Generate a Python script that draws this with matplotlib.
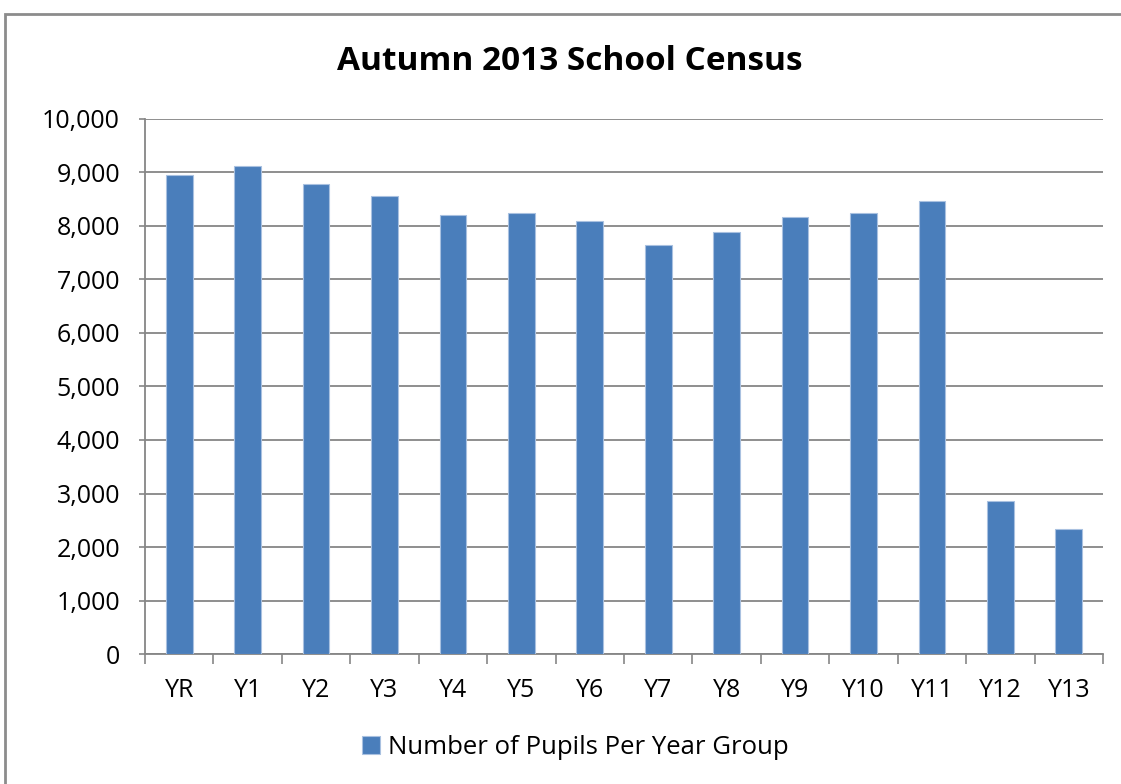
import matplotlib.pyplot as plt
from matplotlib.patches import Rectangle
from matplotlib.ticker import FuncFormatter, MultipleLocator

plt.rcParams['font.family'] = ['Open Sans', 'DejaVu Sans']

# Year groups and pupil counts
year_groups = ['YR', 'Y1', 'Y2', 'Y3', 'Y4', 'Y5', 'Y6', 'Y7', 'Y8', 'Y9', 'Y10', 'Y11', 'Y12', 'Y13']
pupils = [8960, 9115, 8785, 8555, 8205, 8237, 8090, 7653, 7882, 8162, 8237, 8461, 2857, 2330]

fig = plt.figure(figsize=(11.21, 7.84), dpi=100)
W, H = 1121, 784
ax = fig.add_axes([145 / W, 1 - 654 / H, (1103 - 145) / W, (654 - 119) / H])

# outer chart border (top / left visible)
fig.patches.append(Rectangle((5 / W, -0.01), 1.02, 1 - 14 / H + 0.01, transform=fig.transFigure,
                             fill=False, edgecolor='#8c8c8c', linewidth=2))

x = range(len(year_groups))
ax.bar(x, pupils, width=0.39, color='#4A7EBB', edgecolor='#a9c1e0', linewidth=0.8,
       label='Number of Pupils Per Year Group', zorder=3)

ax.set_xlim(-0.5, len(year_groups) - 0.5)
ax.set_ylim(0, 10000)
ax.yaxis.set_major_locator(MultipleLocator(1000))
ax.yaxis.set_major_formatter(FuncFormatter(lambda v, p: f'{int(v):,}'))
ax.grid(axis='y', color='#868686', linewidth=1.3, zorder=0)

ax.set_xticks(list(x))
ax.set_xticklabels(year_groups)
ax.set_xticks([i - 0.5 for i in range(len(year_groups) + 1)], minor=True)
ax.tick_params(axis='x', which='major', length=0, pad=17, labelsize=18)
ax.tick_params(axis='x', which='minor', length=7, color='#868686', width=1.2)
ax.tick_params(axis='y', length=4, color='#868686', width=1.2, labelsize=18, pad=14)

for side in ['top', 'right']:
    ax.spines[side].set_visible(False)
for side in ['left', 'bottom']:
    ax.spines[side].set_color('#868686')
    ax.spines[side].set_linewidth(1.3)

fig.text(570 / W, 1 - 62 / H, 'Autumn 2013 School Census', ha='center', va='center',
         fontsize=24, fontweight='bold')

fig.legend(loc='center', bbox_to_anchor=(575 / W, 1 - 747 / H), frameon=False, fontsize=18.5,
           handlelength=0.7, handleheight=0.7, handletextpad=0.3)

fig.savefig('out.png', dpi=100)
